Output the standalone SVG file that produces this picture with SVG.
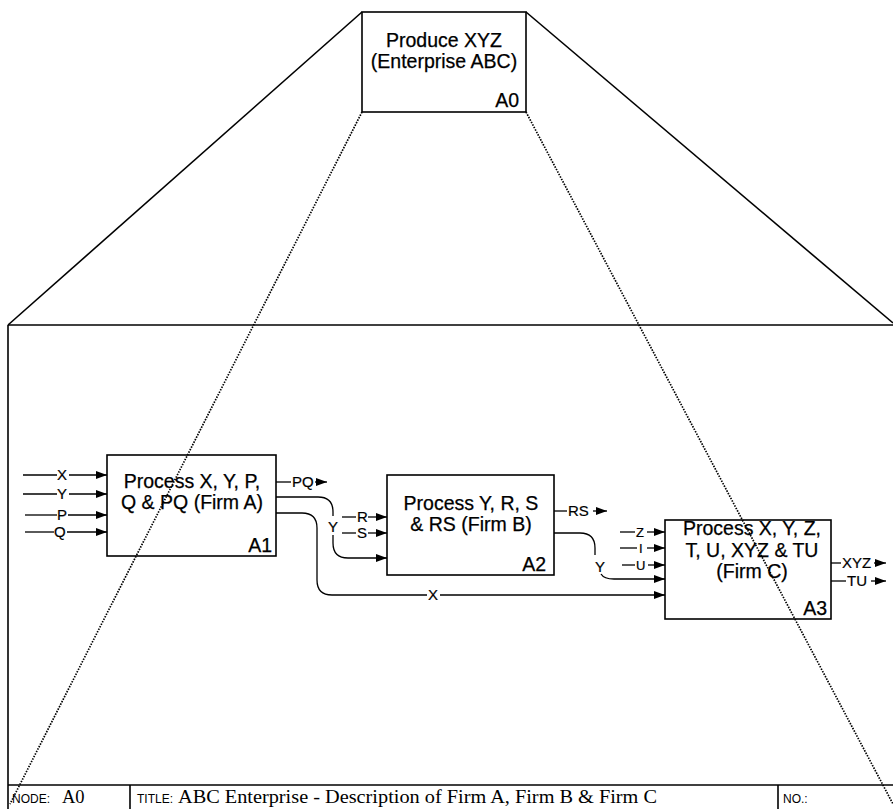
<svg xmlns="http://www.w3.org/2000/svg" width="893" height="809" viewBox="0 0 893 809">
  <style>
    .box { fill: #fff; stroke: #000; stroke-width: 1.6; }
    .frame { fill: none; stroke: #000; stroke-width: 1.6; }
    .dot { fill: none; stroke: #000; stroke-width: 1.7; stroke-dasharray: 1.5 1.3; }
    .ln { fill: none; stroke: #000; stroke-width: 1.3; }
    .arr { fill: none; stroke: #000; stroke-width: 1.3; marker-end: url(#ah); }
    .t { font-family: "Liberation Sans", Arial, sans-serif; font-size: 19.5px; fill: #000; stroke: #000; stroke-width: 0.25; }
    .tc { text-anchor: middle; }
    .id { font-family: "Liberation Sans", Arial, sans-serif; font-size: 19.5px; fill: #000; stroke: #000; stroke-width: 0.25; text-anchor: end; }
    .lb { font-family: "Liberation Sans", Arial, sans-serif; font-size: 15px; fill: #000; stroke: #000; stroke-width: 0.2; }
    .ls { font-family: "Liberation Sans", Arial, sans-serif; font-size: 13px; fill: #000; stroke: #000; stroke-width: 0.2; }
    .sm { font-family: "Liberation Sans", Arial, sans-serif; font-size: 12px; fill: #000; }
    .ser { font-family: "Liberation Serif", "Times New Roman", serif; font-size: 18.5px; fill: #000; }
  </style>
  <defs>
    <marker id="ah" markerUnits="userSpaceOnUse" markerWidth="11" markerHeight="8" refX="11" refY="4" orient="auto">
      <path d="M0,0 L11,4 L0,8 z" fill="#000"/>
    </marker>
  </defs>
  <rect width="893" height="809" fill="#fff"/>

  <!-- decomposition frame -->
  <g id="frame">
    <line class="frame" x1="362" y1="12" x2="8" y2="325"/>
    <line class="frame" x1="526" y1="12" x2="893" y2="323"/>
    <line class="frame" x1="8" y1="325" x2="893" y2="325"/>
    <line class="frame" x1="8" y1="325" x2="8" y2="809"/>
  </g>

  <!-- parent activity -->
  <g id="A0">
    <rect class="box" x="362" y="12" width="164" height="100"/>
    <text class="t tc" x="444" y="47">Produce XYZ</text>
    <text class="t tc" x="444" y="68">(Enterprise ABC)</text>
    <text class="id" x="519" y="107">A0</text>
  </g>

  <!-- child activities -->
  <g id="A1">
    <rect class="box" x="107" y="455" width="169" height="101"/>
    <text class="t tc" x="192" y="488">Process X, Y, P,</text>
    <text class="t tc" x="192" y="509">Q &amp; PQ (Firm A)</text>
    <text class="id" x="272" y="552">A1</text>
  </g>

  <g id="A2">
    <rect class="box" x="387" y="475" width="167" height="100"/>
    <text class="t tc" x="471" y="510">Process Y, R, S</text>
    <text class="t tc" x="471" y="531">&amp; RS (Firm B)</text>
    <text class="id" x="546" y="571">A2</text>
  </g>

  <g id="A3">
    <rect class="box" x="665" y="520" width="166" height="99"/>
    <text class="t tc" x="752" y="535">Process X, Y, Z,</text>
    <text class="t tc" x="752" y="557">T, U, XYZ &amp; TU</text>
    <text class="t tc" x="752" y="578">(Firm C)</text>
    <text class="id" x="827" y="615">A3</text>
  </g>

  <!-- arrows -->
  <g id="connectors">
    <!-- inputs to A1 -->
    <line class="ln" x1="23" y1="475" x2="57" y2="475"/>
    <text class="lb" x="57" y="480">X</text>
    <line class="arr" x1="69" y1="475" x2="107" y2="475"/>
    <line class="ln" x1="23" y1="494" x2="57" y2="494"/>
    <text class="lb" x="57" y="499">Y</text>
    <line class="arr" x1="69" y1="494" x2="107" y2="494"/>
    <line class="ln" x1="25" y1="515" x2="57" y2="515"/>
    <text class="lb" x="57" y="520">P</text>
    <line class="arr" x1="68" y1="515" x2="107" y2="515"/>
    <line class="ln" x1="25" y1="532" x2="54" y2="532"/>
    <text class="lb" x="54" y="537">Q</text>
    <line class="arr" x1="67" y1="532" x2="107" y2="532"/>

    <!-- outputs of A1 -->
    <line class="ln" x1="276" y1="482" x2="291" y2="482"/>
    <text class="lb" x="292" y="487">PQ</text>
    <line class="arr" x1="315" y1="482" x2="327" y2="482"/>

    <path class="ln" d="M276 497 H318 Q333 497 333 512 V516"/>
    <text class="lb tc" x="333" y="532">Y</text>
    <path class="arr" d="M333 535 V543 Q333 558 348 558 H387"/>

    <path class="ln" d="M276 513 H302 Q317 513 317 528 V580 Q317 595 332 595 H427"/>
    <text class="lb tc" x="433" y="600">X</text>
    <line class="arr" x1="440" y1="595" x2="665" y2="595"/>

    <!-- inputs to A2 -->
    <line class="ln" x1="342" y1="517" x2="356" y2="517"/>
    <text class="lb" x="357" y="522">R</text>
    <line class="arr" x1="368" y1="517" x2="387" y2="517"/>
    <line class="ln" x1="342" y1="533" x2="356" y2="533"/>
    <text class="lb" x="357" y="538">S</text>
    <line class="arr" x1="368" y1="533" x2="387" y2="533"/>

    <!-- outputs of A2 -->
    <line class="ln" x1="554" y1="511" x2="567" y2="511"/>
    <text class="lb" x="568" y="516">RS</text>
    <line class="arr" x1="593" y1="511" x2="607" y2="511"/>

    <path class="ln" d="M554 533 H580 Q595 533 595 548 V555"/>
    <text class="lb tc" x="600" y="572">Y</text>
    <path class="arr" d="M601 574 Q604 579 614 579 H665"/>

    <!-- inputs to A3 -->
    <line class="ln" x1="620" y1="532" x2="635" y2="532"/>
    <text class="ls" x="636" y="536.5">Z</text>
    <line class="arr" x1="647" y1="532" x2="665" y2="532"/>
    <line class="ln" x1="620" y1="548" x2="637" y2="548"/>
    <text class="ls" x="639" y="552.5">I</text>
    <line class="arr" x1="647" y1="548" x2="665" y2="548"/>
    <line class="ln" x1="622" y1="565" x2="635" y2="565"/>
    <text class="ls" x="636" y="569.5">U</text>
    <line class="arr" x1="648" y1="565" x2="665" y2="565"/>

    <!-- outputs of A3 -->
    <line class="ln" x1="831" y1="563" x2="841" y2="563"/>
    <text class="lb" x="842" y="568">XYZ</text>
    <line class="arr" x1="874" y1="563" x2="886" y2="563"/>
    <line class="ln" x1="831" y1="581" x2="846" y2="581"/>
    <text class="lb" x="847" y="586">TU</text>
    <line class="arr" x1="871" y1="581" x2="886" y2="581"/>
  </g>

  <!-- dotted projection lines, drawn over the child diagram -->
  <g id="projection">
    <line class="dot" x1="362" y1="112" x2="10" y2="804"/>
    <line class="dot" x1="526" y1="112" x2="893" y2="804"/>
  </g>

  <!-- title block -->
  <g id="title-block">
    <line class="frame" x1="8" y1="785" x2="893" y2="785"/>
    <line class="frame" x1="130" y1="785" x2="130" y2="809"/>
    <line class="frame" x1="778" y1="785" x2="778" y2="809"/>
    <text class="sm" x="12" y="803">NODE:</text>
    <text class="ser" x="62" y="803">A0</text>
    <text class="sm" x="137" y="803">TITLE:</text>
    <text class="ser" x="178" y="803" textLength="479" lengthAdjust="spacingAndGlyphs">ABC Enterprise - Description of Firm A, Firm B &amp; Firm C</text>
    <text class="sm" x="783" y="803">NO.:</text>
  </g>
</svg>
